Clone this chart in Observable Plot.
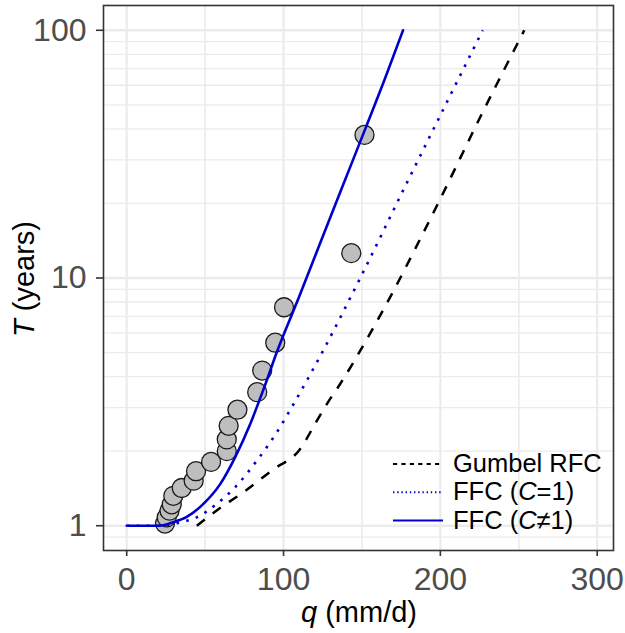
<!DOCTYPE html>
<html>
<head>
<meta charset="utf-8">
<script src="https://cdn.jsdelivr.net/npm/d3@7"></script>
<script src="https://cdn.jsdelivr.net/npm/@observablehq/plot@0.6"></script>
<style>
  html, body { margin: 0; padding: 0; background: #fff; }
  #chart { width: 625px; height: 633px; }
</style>
</head>
<body>
<div id="chart"></div>
<script>
// Observed annual maxima (plotting positions)
const obsQ = [24.4, 25.5, 27.3, 28.7, 29.7, 35.1, 42.7, 44.2, 53.8, 63.8, 63.8, 65.0, 70.6, 83.2, 86.4, 94.7, 100.3, 143.2, 151.6];
const obsT = [1.02, 1.08, 1.15, 1.22, 1.32, 1.42, 1.52, 1.66, 1.81, 2.00, 2.23, 2.53, 2.94, 3.46, 4.23, 5.48, 7.62, 12.6, 37.8];

// FFC (C≠1) – solid blue
const ffcQ = [0, 21, 30, 38.3, 48.9, 59.6, 69.1, 78.7, 87.2, 95.7, 110, 123, 137, 152, 165, 176.2];
const ffcT = [1, 1, 1.035, 1.086, 1.225, 1.472, 1.888, 2.570, 3.548, 5.012, 8.414, 13.65, 22.91, 39.81, 64.57, 100];

// FFC (C=1) – dotted blue
const ffc1Q = [0, 20, 34, 44.7, 57.4, 69.1, 83, 95.7, 106.3, 123.4, 148.9, 178.7, 200, 227];
const ffc1T = [1, 1, 1.030, 1.081, 1.225, 1.429, 1.832, 2.382, 3.090, 4.842, 10, 24.27, 45.39, 100];

// Gumbel RFC – dashed black
const gumQ = [44.7, 57.4, 74.4, 93.6, 110, 121.3, 127.7, 136.1, 153.2, 170.2, 183.4, 200, 226, 253.5];
const gumT = [1, 1.153, 1.365, 1.690, 2.018, 2.655, 3.105, 3.733, 5.675, 8.892, 12.91, 20.89, 45.39, 100];

// Axis ticks / grid
const xTicks = [0, 100, 200, 300];
const xMinor = [50, 150, 250];
const yTicks = [1, 10, 100];
const yMinor = [0.9, 2, 3, 4, 5, 6, 7, 8, 9, 20, 30, 40, 50, 60, 70, 80, 90];

// Legend text (prefix, italic part, suffix)
const legendPre = ["Gumbel RFC", "FFC (", "FFC ("];
const legendIt = ["", "C", "C"];
const legendPost = ["", "=1)", "≠1)"];

const rows = (q, T) => q.map((v, i) => ({q: v, T: T[i]}));
const obs = rows(obsQ, obsT);
const ffc = rows(ffcQ, ffcT);
const ffc1 = rows(ffc1Q, ffc1T);
const gum = rows(gumQ, gumT);

const FONT = "'Liberation Sans', Arial, Helvetica, sans-serif";
const BLUE = "#0000CD";

const chart = Plot.plot({
  width: 625,
  height: 633,
  marginLeft: 103,
  marginRight: 12,
  marginTop: 5,
  marginBottom: 83,
  style: {fontFamily: FONT, background: "#fff", overflow: "visible"},
  x: {domain: [-14.8, 310.4]},
  y: {type: "log", domain: [0.7943, 125.9]},
  marks: [
    Plot.gridY(yMinor, {stroke: "#EBEBEB", strokeOpacity: 1, strokeWidth: 1.3}),
    Plot.gridX(xMinor, {stroke: "#EBEBEB", strokeOpacity: 1, strokeWidth: 1.6}),
    Plot.gridY(yTicks, {stroke: "#EBEBEB", strokeOpacity: 1, strokeWidth: 2.4}),
    Plot.gridX(xTicks, {stroke: "#EBEBEB", strokeOpacity: 1, strokeWidth: 2.2}),
    Plot.dot(obs, {x: "q", y: "T", r: 9.5, fill: "#BEBEBE", stroke: "#1a1a1a", strokeWidth: 1.3}),
    Plot.line(gum, {x: "q", y: "T", curve: "monotone-x", stroke: "#000", strokeWidth: 2.5, strokeDasharray: "10,10", strokeLinecap: "butt"}),
    Plot.line(ffc1, {x: "q", y: "T", curve: "monotone-x", stroke: BLUE, strokeWidth: 2.6, strokeDasharray: "2.6,7.4", strokeLinecap: "butt"}),
    Plot.line(ffc, {x: "q", y: "T", curve: "monotone-x", stroke: BLUE, strokeWidth: 2.6}),
    Plot.frame({stroke: "#333", strokeWidth: 1.6}),
    Plot.axisX(xTicks, {tickSize: 6, tickPadding: 11, fontSize: 32, fill: "#4D4D4D", stroke: "#333", strokeWidth: 1.6, label: null, tickFormat: d => String(d)}),
    Plot.axisY(yTicks, {tickSize: 7, tickPadding: 10, fontSize: 32, fill: "#4D4D4D", stroke: "#333", strokeWidth: 1.6, label: null, tickFormat: d => String(d)})
  ]
});

document.getElementById("chart").appendChild(chart);

const svg = d3.select(chart);

// Axis titles
const xt = svg.append("text")
  .attr("x", 359).attr("y", 622)
  .attr("text-anchor", "middle")
  .attr("font-family", FONT).attr("font-size", 29).attr("fill", "#000");
xt.append("tspan").attr("font-style", "italic").text("q");
xt.append("tspan").text(" (mm/d)");

const yt = svg.append("text")
  .attr("transform", "translate(34,279) rotate(-90)")
  .attr("text-anchor", "middle")
  .attr("font-family", FONT).attr("font-size", 29).attr("fill", "#000");
yt.append("tspan").attr("font-style", "italic").text("T");
yt.append("tspan").text(" (years)");

// Legend (inside panel, bottom-right)
const keyStyles = [
  {stroke: "#000", dash: "4.2,4.2"},
  {stroke: BLUE, dash: "1.4,2.8"},
  {stroke: BLUE, dash: null}
];
const lg = svg.append("g").attr("text-anchor", "start");
legendPre.forEach((pre, i) => {
  const y = 464 + i * 28.3;
  const ln = lg.append("line")
    .attr("x1", 393).attr("x2", 443).attr("y1", y).attr("y2", y)
    .attr("stroke", keyStyles[i].stroke).attr("stroke-width", 2);
  if (keyStyles[i].dash) ln.attr("stroke-dasharray", keyStyles[i].dash);
  const t = lg.append("text")
    .attr("x", 453).attr("y", y + 8)
    .attr("text-anchor", "start")
    .attr("font-family", FONT).attr("font-size", 25.5).attr("fill", "#000");
  t.append("tspan").text(pre);
  if (legendIt[i]) t.append("tspan").attr("font-style", "italic").text(legendIt[i]);
  if (legendPost[i]) t.append("tspan").text(legendPost[i]);
});
</script>
</body>
</html>
